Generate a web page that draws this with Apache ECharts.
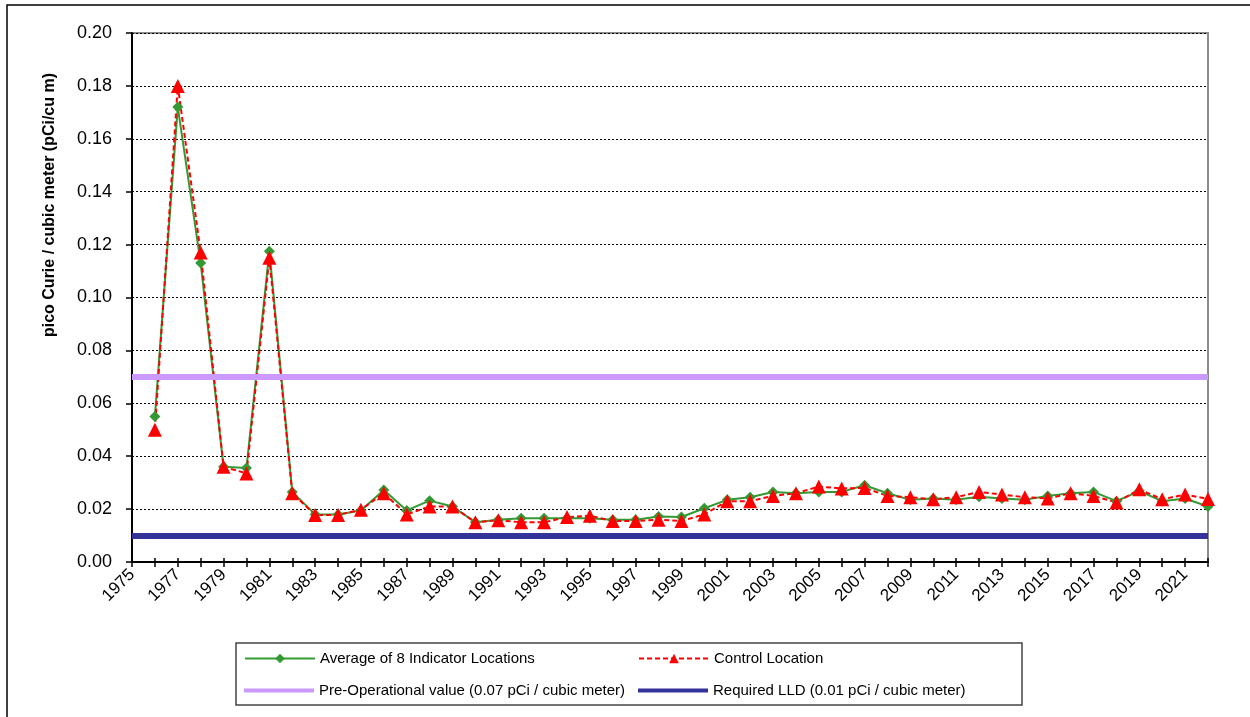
<!DOCTYPE html>
<html>
<head>
<meta charset="utf-8">
<title>pCi / cu m</title>
<script src="https://cdn.jsdelivr.net/npm/echarts@6/dist/echarts.min.js"></script>
<style>
    html, body {margin: 0; padding: 0; background: #fff;}
    #chartDiv {width: 1250px; height: 717px;}
</style>
</head>
<body>
<div id="chartDiv"></div>
<script>
var years = [];
for (var y = 1975; y <= 2022; y++) {
    years.push(String(y));
}

// 1975 has no sample, series start in 1976
var avgIndicator = [null,
    0.055, 0.172, 0.113, 0.036, 0.0355, 0.1175, 0.0265, 0.018, 0.018, 0.0195,
    0.0272, 0.0195, 0.0232, 0.021, 0.015, 0.016, 0.0165, 0.0165, 0.0165, 0.0165,
    0.016, 0.016, 0.0172, 0.017, 0.0203, 0.0235, 0.0245, 0.0265, 0.026, 0.0265,
    0.0265, 0.029, 0.026, 0.0235, 0.024, 0.0235, 0.0247, 0.024, 0.0235, 0.025,
    0.026, 0.0265, 0.023, 0.0268, 0.023, 0.024, 0.021];

var controlLoc = [null,
    0.050, 0.180, 0.117, 0.036, 0.0335, 0.115, 0.026, 0.0178, 0.0178, 0.0198,
    0.026, 0.018, 0.021, 0.021, 0.015, 0.0158, 0.015, 0.015, 0.017, 0.0175,
    0.0155, 0.0155, 0.016, 0.0155, 0.018, 0.023, 0.023, 0.025, 0.026, 0.0285,
    0.0278, 0.028, 0.025, 0.0245, 0.0237, 0.0245, 0.0265, 0.0255, 0.0245, 0.024,
    0.026, 0.025, 0.0225, 0.0275, 0.0237, 0.0255, 0.0238];

var preOpValue = 0.07;
var requiredLLD = 0.01;

var seriesNames = [
    'Average of 8 Indicator Locations',
    'Control Location',
    'Pre-Operational value (0.07 pCi / cubic meter)',
    'Required LLD (0.01 pCi / cubic meter)'
];

var chart = echarts.init(document.getElementById('chartDiv'));

function legendAt(name, left, top, bar) {
    var lg = {
        data: [bar ? {name: name, icon: 'rect'} : name],
        left: left,
        top: top,
        padding: 0,
        itemWidth: 70,
        itemHeight: bar ? 4 : 12,
        itemGap: 0,
        textStyle: {fontFamily: 'Arial, Liberation Sans', fontSize: 15, color: '#000'}
    };
    return lg;
}

var option = {
    animation: false,
    textStyle: {fontFamily: 'Arial, Liberation Sans'},
    grid: {
        left: 132, right: 42, top: 33, bottom: 155,
        show: true,
        borderColor: '#8c8c8c',
        borderWidth: 2
    },
    graphic: [
        {
            type: 'rect',
            shape: {x: 7, y: 5, width: 1300, height: 800},
            style: {fill: null, stroke: '#000', lineWidth: 1.5},
            silent: true
        },
        {
            type: 'rect',
            shape: {x: 236, y: 643, width: 786, height: 62},
            style: {fill: null, stroke: '#444', lineWidth: 1.5},
            silent: true
        },
        {
            type: 'text',
            x: 50,
            y: 205,
            rotation: Math.PI / 2,
            style: {
                text: 'pico Curie / cubic meter (pCi/cu m)',
                font: 'bold 16px Arial, Liberation Sans',
                fill: '#000',
                align: 'center',
                verticalAlign: 'middle'
            }
        }
    ],
    legend: [
        legendAt(seriesNames[0], 244, 651, false),
        legendAt(seriesNames[1], 638, 651, false),
        legendAt(seriesNames[2], 244, 683, true),
        legendAt(seriesNames[3], 638, 683, true)
    ],
    xAxis: [
        {
            type: 'category',
            boundaryGap: false,
            data: years,
            axisLine: {lineStyle: {color: '#000', width: 2}},
            axisTick: {show: true, interval: 0, length: 5, lineStyle: {color: '#000', width: 1.5}},
            axisLabel: {interval: 1, rotate: 45, margin: 10, fontSize: 17, color: '#000'},
            splitLine: {show: false}
        },
        {
            type: 'category',
            position: 'bottom',
            boundaryGap: false,
            data: years,
            axisLine: {show: false},
            axisTick: {show: true, inside: true, interval: 0, length: 4, lineStyle: {color: '#000', width: 1.5}},
            axisLabel: {show: false},
            splitLine: {show: false}
        }
    ],
    yAxis: [
        {
            type: 'value',
            min: 0,
            max: 0.2,
            interval: 0.02,
            axisLine: {show: true, lineStyle: {color: '#000', width: 2}},
            axisTick: {show: true, length: 6, lineStyle: {color: '#000', width: 1.5}},
            axisLabel: {
                margin: 20,
                fontSize: 18,
                color: '#000',
                formatter: function (v) {
                    return v.toFixed(2);
                }
            },
            splitLine: {lineStyle: {color: '#000', width: 1, type: [2, 2]}}
        }
    ],
    series: [
        {
            name: seriesNames[2],
            type: 'line',
            symbol: 'none',
            data: [],
            color: '#cc99ff',
            lineStyle: {color: '#cc99ff', width: 4},
            markLine: {
                silent: true,
                symbol: ['none', 'none'],
                label: {show: false},
                lineStyle: {color: '#cc99ff', width: 6, type: 'solid'},
                data: [{yAxis: preOpValue}]
            }
        },
        {
            name: seriesNames[3],
            type: 'line',
            symbol: 'none',
            data: [],
            color: '#333399',
            lineStyle: {color: '#333399', width: 4},
            markLine: {
                silent: true,
                symbol: ['none', 'none'],
                label: {show: false},
                lineStyle: {color: '#333399', width: 6, type: 'solid'},
                data: [{yAxis: requiredLLD}]
            }
        },
        {
            name: seriesNames[0],
            type: 'line',
            symbol: 'diamond',
            symbolSize: 11,
            color: '#339933',
            lineStyle: {color: '#339933', width: 2},
            itemStyle: {color: '#339933'},
            data: avgIndicator
        },
        {
            name: seriesNames[1],
            type: 'line',
            symbol: 'triangle',
            symbolSize: 14,
            color: '#ff0000',
            lineStyle: {color: '#ff0000', width: 2, type: [5, 3]},
            itemStyle: {color: '#ff0000'},
            data: controlLoc
        }
    ]
};
chart.setOption(option);
</script>
</body>
</html>
